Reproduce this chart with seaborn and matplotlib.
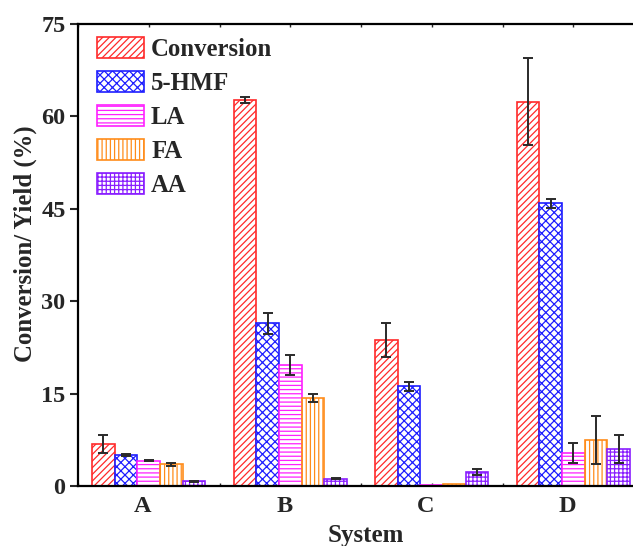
import numpy as np
import pandas as pd
import matplotlib
matplotlib.use("Agg")
import matplotlib.pyplot as plt
import matplotlib.transforms as mtransforms
import seaborn as sns
from matplotlib.ticker import MultipleLocator

# ---- data ----
systems = ["A", "B", "C", "D"]
series = ["Conversion", "5-HMF", "LA", "FA", "AA"]
conversion = [6.8, 62.7, 23.7, 62.4]
hmf = [5.0, 26.4, 16.2, 45.9]
la = [4.1, 19.6, 0.1, 5.3]
fa = [3.5, 14.3, 0.3, 7.4]
aa = [0.75, 1.2, 2.3, 6.0]
conversion_err = [1.5, 0.5, 2.8, 7.0]
hmf_err = [0.2, 1.7, 0.76, 0.73]
la_err = [0.1, 1.6, 0.0, 1.6]
fa_err = [0.3, 0.6, 0.0, 3.9]
aa_err = [0.1, 0.1, 0.45, 2.2]
y_ticks = [0, 15, 30, 45, 60, 75]

colors = ["#FF2A2A", "#1E1EFF", "#FF1FFF", "#FF8C1A", "#8A1EFF"]
hatches = ["/////", "xxxx", "----", "||||", "++++"]

values = [conversion, hmf, la, fa, aa]
errors = [conversion_err, hmf_err, la_err, fa_err, aa_err]
rows = []
for s, vals, errs in zip(series, values, errors):
    for sysname, v, e in zip(systems, vals, errs):
        rows.append({"System": sysname, "Series": s, "Value": v, "Err": e})
df = pd.DataFrame(rows)

sns.set_style("ticks")
plt.rcParams["font.family"] = ["Liberation Serif", "DejaVu Serif"]
plt.rcParams["font.weight"] = "bold"
plt.rcParams["hatch.linewidth"] = 0.9

fig = plt.figure(figsize=(6.33, 5.46), dpi=100)
ax = fig.add_axes([78 / 633, 1 - 486 / 546, (644 - 78) / 633, (486 - 24) / 546])

sns.barplot(data=df, x="System", y="Value", hue="Series", order=systems,
            hue_order=series, palette=colors, errorbar=None, width=0.8,
            ax=ax, legend=False, saturation=1)

for cont, col, h, s in zip(ax.containers, colors, hatches, series):
    sub = df[df["Series"] == s].set_index("System").loc[systems]
    xs = []
    for bar in cont:
        bar.set_facecolor("white")
        bar.set_edgecolor(col)
        bar.set_hatch(h)
        bar.set_linewidth(1.2)
        xs.append(bar.get_x() + bar.get_width() / 2)
    errs = sub["Err"].values
    mask = errs > 0
    ax.errorbar(np.array(xs)[mask], sub["Value"].values[mask], yerr=errs[mask],
                fmt="none", ecolor="#2a2a2a", elinewidth=1.4, capsize=3.5,
                capthick=1.4, zorder=5)

ax.legend(handles=[c[0] for c in ax.containers], labels=series,
          loc="upper left", bbox_to_anchor=(0.033, 0.972), frameon=False,
          borderpad=0, borderaxespad=0, handlelength=1.9, handleheight=0.95,
          handletextpad=0.3, labelspacing=0.4,
          prop={"family": "Liberation Serif", "weight": "bold", "size": 17.8})

ax.set_ylim(0, 75)
ax.set_xlim(-0.5, 3.5)
ax.set_yticks(y_ticks)
ax.set_xticks(range(len(systems)))
ax.set_xticklabels(systems)
ax.xaxis.set_minor_locator(MultipleLocator(0.5))
ax.tick_params(axis="y", which="major", direction="out", length=6, width=1.5,
               labelsize=17.5, pad=3)
ax.tick_params(axis="x", which="both", direction="in", length=2, width=1,
               labelsize=17.5, top=True, bottom=True, pad=7)
for lab in ax.get_xticklabels() + ax.get_yticklabels():
    lab.set_fontweight("bold")
shift = mtransforms.ScaledTranslation(-6 / 100, 0, fig.dpi_scale_trans)
for lab in ax.get_xticklabels():
    lab.set_transform(lab.get_transform() + shift)

ax.set_xlabel("System", fontsize=18, fontweight="bold")
ax.set_ylabel("Conversion/ Yield (%)", fontsize=17.8, fontweight="bold")
ax.xaxis.set_label_coords(0.509, -0.082)
ax.yaxis.set_label_coords(-0.072, 0.525)

for sp in ["left", "bottom", "top", "right"]:
    ax.spines[sp].set_visible(True)
    ax.spines[sp].set_linewidth(1.6)
    ax.spines[sp].set_color("black")

fig.savefig("out.png", dpi=100)
